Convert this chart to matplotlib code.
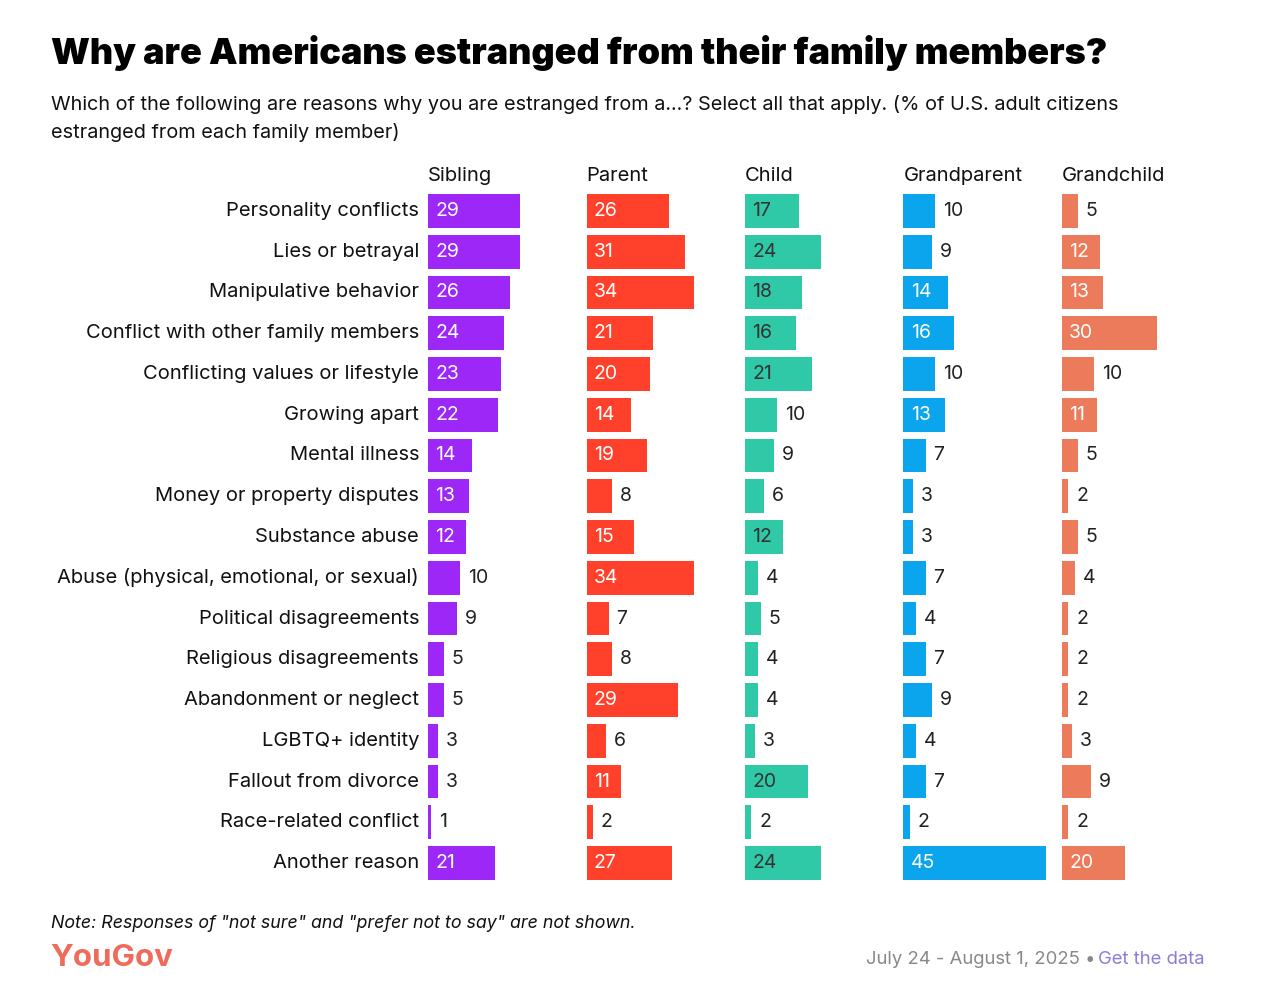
import matplotlib
matplotlib.use("Agg")
import matplotlib.pyplot as plt
import numpy as np

plt.rcParams["font.family"] = ["Inter", "DejaVu Sans"]

reasons = [
    "Personality conflicts",
    "Lies or betrayal",
    "Manipulative behavior",
    "Conflict with other family members",
    "Conflicting values or lifestyle",
    "Growing apart",
    "Mental illness",
    "Money or property disputes",
    "Substance abuse",
    "Abuse (physical, emotional, or sexual)",
    "Political disagreements",
    "Religious disagreements",
    "Abandonment or neglect",
    "LGBTQ+ identity",
    "Fallout from divorce",
    "Race-related conflict",
    "Another reason",
]
groups = ["Sibling", "Parent", "Child", "Grandparent", "Grandchild"]
sibling = [29, 29, 26, 24, 23, 22, 14, 13, 12, 10, 9, 5, 5, 3, 3, 1, 21]
parent = [26, 31, 34, 21, 20, 14, 19, 8, 15, 34, 7, 8, 29, 6, 11, 2, 27]
child = [17, 24, 18, 16, 21, 10, 9, 6, 12, 4, 5, 4, 4, 3, 20, 2, 24]
grandparent = [10, 9, 14, 16, 10, 13, 7, 3, 3, 7, 4, 7, 9, 4, 7, 2, 45]
grandchild = [5, 12, 13, 30, 10, 11, 5, 2, 5, 4, 2, 2, 2, 3, 9, 2, 20]

series = [sibling, parent, child, grandparent, grandchild]
colors = ["#9D27F6", "#FF412C", "#30C9A8", "#0AA5EC", "#EB7B5A"]
inside_colors = ["white", "white", "#333333", "white", "white"]
col_step = 50  # column offset in value units

fig = plt.figure(figsize=(12.78, 10.08), dpi=100)
ax = fig.add_axes([428 / 1278, 1 - 883.4 / 1008, 782 / 1278, 692.8 / 1008])

y = np.arange(len(reasons))
for i, vals in enumerate(series):
    off = i * col_step
    ax.barh(y, vals, left=off, height=0.83, color=colors[i])
    for yy, v in zip(y, vals):
        if v >= 11:
            ax.text(off + 2.3, yy, str(v), va="center", ha="left",
                    fontsize=14, color=inside_colors[i])
        else:
            ax.text(off + v + 2.5, yy, str(v), va="center", ha="left",
                    fontsize=14, color="#222222")
    ax.text(off, -0.86, groups[i], va="center", ha="left", fontsize=14.5,
            color="#111111")

for yy, r in zip(y, reasons):
    ax.text(-2.8, yy, r, va="center", ha="right", fontsize=14.5, color="#111111")

ax.set_xlim(0, 782 / 3.17)
ax.set_ylim(len(reasons) - 0.5, -0.5)
ax.axis("off")

fig.text(51 / 1278, 1 - 53 / 1008, "Why are Americans estranged from their family members?",
         fontsize=25.9, fontweight="black", va="center", ha="left", color="black")
fig.text(51 / 1278, 1 - 104 / 1008,
         "Which of the following are reasons why you are estranged from a...? Select all that apply. (% of U.S. adult citizens",
         fontsize=14.3, va="center", ha="left", color="#111111")
fig.text(51 / 1278, 1 - 132 / 1008, "estranged from each family member)",
         fontsize=14.3, va="center", ha="left", color="#111111")
fig.text(51 / 1278, 1 - 924 / 1008,
         'Note: Responses of "not sure" and "prefer not to say" are not shown.',
         fontsize=12.8, style="italic", va="center", ha="left", color="#111111")
fig.text(50 / 1278, 1 - 958 / 1008, "YouGov", fontsize=22.5, fontweight="bold",
         va="center", ha="left", color="#EF6B5B")
fig.text(1205 / 1278, 1 - 960 / 1008, "Get the data", fontsize=13.3,
         va="center", ha="right", color="#8A7FD8")
fig.text(1095 / 1278, 1 - 960 / 1008, "July 24 - August 1, 2025 \u2022", fontsize=13.3,
         va="center", ha="right", color="#888888")

fig.savefig("out.png", dpi=100, facecolor="white")
